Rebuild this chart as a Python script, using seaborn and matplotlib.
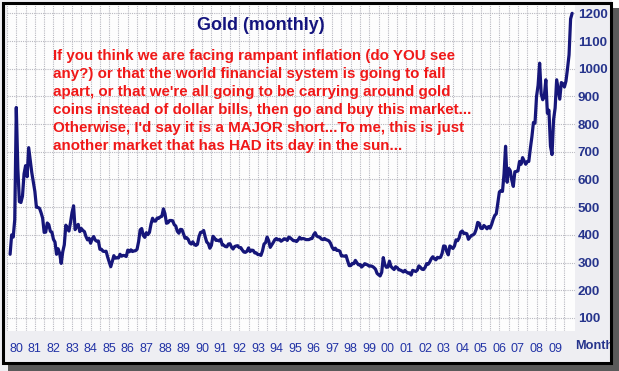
# Gold (monthly) - chart recreation
import pandas as pd
import matplotlib
matplotlib.use("Agg")
import matplotlib.pyplot as plt
import seaborn as sns
from matplotlib.patches import Rectangle

# monthly gold price (USD/oz), Sep 1979 .. Dec 2009
p1979 = [330, 400, 392, 455]
p1980 = [860, 640, 520, 517, 540, 620, 650, 610, 715, 670, 625, 590]
p1981 = [557, 500, 499, 496, 480, 461, 409, 410, 443, 437, 413, 410]
p1982 = [384, 374, 330, 350, 334, 297, 339, 364, 435, 422, 414, 444]
p1983 = [481, 505, 419, 432, 438, 412, 423, 416, 412, 394, 382, 388]
p1984 = [370, 386, 394, 381, 377, 378, 348, 348, 341, 340, 341, 320]
p1985 = [303, 285, 304, 325, 316, 317, 317, 330, 323, 326, 325, 322]
p1986 = [345, 339, 346, 340, 342, 343, 348, 376, 418, 423, 398, 391]
p1987 = [408, 401, 409, 439, 460, 450, 450, 461, 460, 465, 467, 494]
p1988 = [477, 442, 444, 452, 452, 451, 437, 432, 413, 406, 420, 419]
p1989 = [404, 388, 390, 384, 371, 367, 375, 365, 362, 366, 394, 409]
p1990 = [410, 416, 393, 374, 369, 352, 362, 395, 389, 380, 381, 378]
p1991 = [384, 364, 363, 358, 357, 367, 368, 356, 349, 358, 360, 361]
p1992 = [354, 354, 345, 338, 337, 341, 353, 340, 345, 344, 335, 335]
p1993 = [329, 329, 326, 342, 367, 372, 392, 379, 355, 364, 373, 383]
p1994 = [387, 382, 384, 377, 381, 386, 385, 380, 392, 389, 384, 379]
p1995 = [379, 376, 382, 391, 385, 387, 386, 383, 383, 383, 386, 387]
p1996 = [400, 408, 396, 393, 392, 385, 383, 387, 383, 381, 378, 369]
p1997 = [355, 347, 352, 344, 344, 341, 324, 324, 323, 325, 306, 289]
p1998 = [289, 297, 296, 308, 299, 292, 293, 284, 289, 296, 294, 291]
p1999 = [287, 288, 286, 282, 276, 261, 256, 252, 265, 318, 293, 283]
p2000 = [284, 305, 286, 280, 275, 285, 282, 274, 273, 270, 266, 272]
p2001 = [266, 262, 263, 255, 272, 270, 268, 273, 288, 283, 276, 275]
p2002 = [282, 296, 294, 302, 314, 321, 314, 310, 319, 317, 319, 333]
p2003 = [360, 359, 340, 328, 360, 356, 351, 360, 382, 379, 389, 410]
p2004 = [414, 405, 406, 404, 384, 392, 398, 400, 405, 420, 445, 442]
p2005 = [424, 423, 434, 429, 422, 430, 424, 438, 456, 470, 476, 515]
p2006 = [555, 560, 557, 620, 720, 590, 640, 632, 598, 575, 628, 629]
p2007 = [631, 665, 655, 679, 667, 655, 665, 665, 712, 754, 806, 803]
p2008 = [900, 940, 1020, 909, 888, 900, 960, 839, 850, 720, 690, 816]
p2009 = [858, 960, 924, 890, 950, 946, 934, 955, 1000, 1050, 1180, 1200]

year_labels = ["80", "81", "82", "83", "84", "85", "86", "87", "88", "89",
               "90", "91", "92", "93", "94", "95", "96", "97", "98", "99",
               "00", "01", "02", "03", "04", "05", "06", "07", "08", "09"]
y_ticks = [100, 200, 300, 400, 500, 600, 700, 800, 900, 1000, 1100, 1200]

title_text = "Gold (monthly)"
note_lines = [
    "If you think we are facing rampant inflation (do YOU see",
    "any?) or that the world financial system is going to fall",
    "apart, or that we're all going to be carrying around gold",
    "coins instead of dollar bills, then go and buy this market...",
    "Otherwise, I'd say it is a MAJOR short...To me, this is just",
    "another market that has HAD its day in the sun...",
]

prices = (p1979 + p1980 + p1981 + p1982 + p1983 + p1984 + p1985 + p1986 + p1987
          + p1988 + p1989 + p1990 + p1991 + p1992 + p1993 + p1994 + p1995 + p1996
          + p1997 + p1998 + p1999 + p2000 + p2001 + p2002 + p2003 + p2004 + p2005
          + p2006 + p2007 + p2008 + p2009)
dates = pd.date_range("1979-09-01", periods=len(prices), freq="MS")
df = pd.DataFrame({"t": dates.year + (dates.month - 1) / 12.0, "price": prices})

sns.set_style("white")
plt.rcParams["font.family"] = ["Liberation Sans", "DejaVu Sans"]

W, H = 619, 371
fig = plt.figure(figsize=(W / 100, H / 100), dpi=100)
fig.patch.set_facecolor("#eeeef2")

def fx(px):
    return px / W

def fy(py):
    return 1 - py / H

ax = fig.add_axes([fx(7), fy(331), fx(575) - fx(7), fy(5) - fy(331)])
ax.set_facecolor("#fdfdfd")

sns.lineplot(data=df, x="t", y="price", ax=ax, color="#16167a", linewidth=2.3)

ax.set_xlim(1979.68, 2010.07)
ax.set_ylim(53, 1230)

years = list(range(1980, 2010))
ax.set_xticks(years)
ax.set_xticklabels(year_labels)
ax.set_xticks([y + 0.5 for y in range(1979, 2010)], minor=True)
ax.set_yticks(y_ticks)
ax.yaxis.tick_right()
ax.tick_params(axis="y", length=0, pad=2, labelsize=9.6, labelcolor="#26348c")
for lab in ax.get_yticklabels():
    lab.set_fontweight("bold")
ax.tick_params(axis="x", which="both", length=0, pad=9, labelsize=9, labelcolor="#2233a6")
ax.grid(True, which="both", axis="x", color="#b8b8c0", linestyle=(0, (1, 1)), linewidth=0.8)
ax.grid(True, which="major", axis="y", color="#b8b8c0", linestyle=(0, (1, 1)), linewidth=0.8)
ax.set_xlabel("")
ax.set_ylabel("")
for s in ax.spines.values():
    s.set_visible(False)

fig.text(fx(261), fy(26), title_text, ha="center", va="center",
         fontsize=12.9, fontweight="bold", color="#14147e")
for i, line in enumerate(note_lines):
    fig.text(fx(53), fy(56 + 18 * i), line, ha="left", va="center",
             fontsize=10.9, fontweight="bold", color="#f01818")

fig.text(fx(575), fy(346), "Month", ha="left", va="center",
         fontsize=9.2, fontweight="bold", color="#26348c")

# frame with drop shadow
fig.add_artist(Rectangle((fx(612), fy(371)), fx(7), fy(0) - fy(371),
                         transform=fig.transFigure, facecolor="white",
                         edgecolor="none", zorder=9))
fig.add_artist(Rectangle((fx(611), fy(371)), fx(8), fy(8) - fy(371),
                         transform=fig.transFigure, facecolor="#5a5a5a",
                         edgecolor="none", zorder=10))
fig.add_artist(Rectangle((fx(8), fy(371)), fx(611) - fx(8), fy(363) - fy(371),
                         transform=fig.transFigure, facecolor="#5a5a5a",
                         edgecolor="none", zorder=10))
fig.add_artist(Rectangle((fx(3), fy(363)), fx(611) - fx(3), fy(3) - fy(363),
                         transform=fig.transFigure, facecolor="none",
                         edgecolor="black", linewidth=2.2, zorder=11))

fig.savefig("out.png", dpi=100, facecolor=fig.get_facecolor())
